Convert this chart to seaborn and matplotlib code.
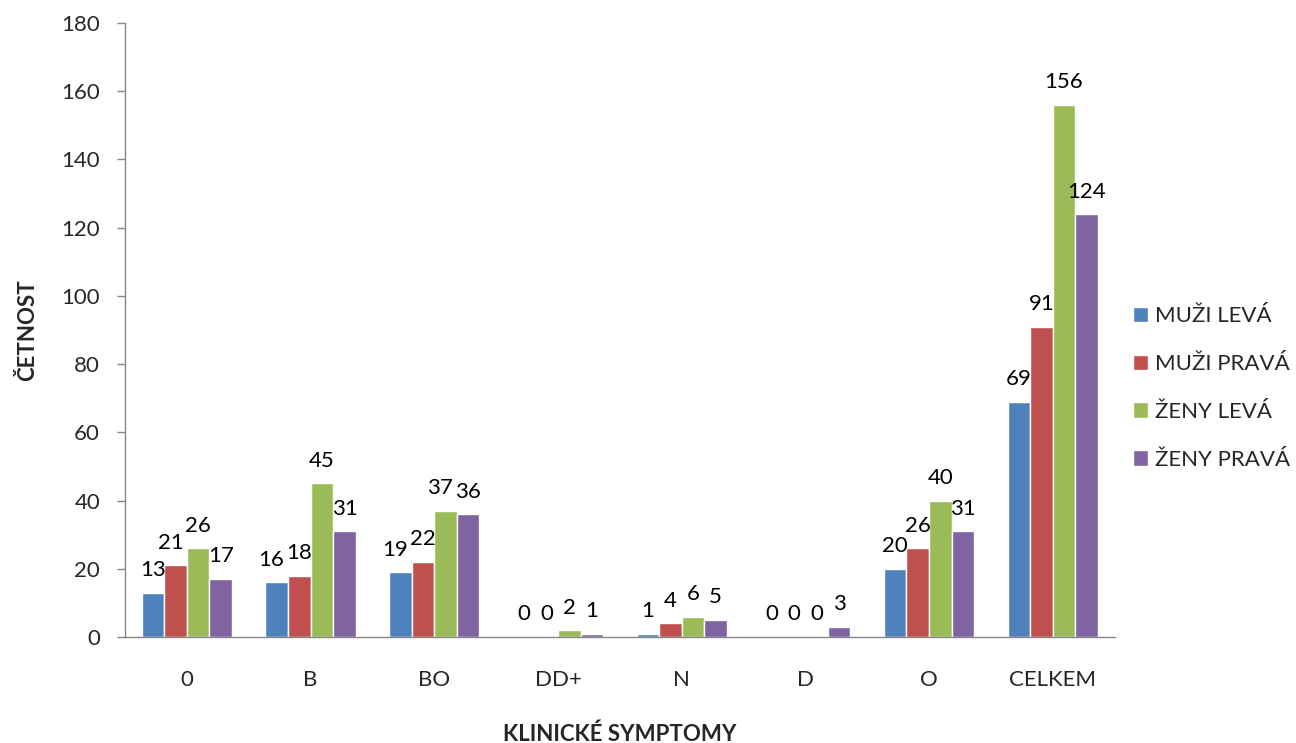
import matplotlib
matplotlib.use("Agg")
import matplotlib.pyplot as plt
import seaborn as sns
import pandas as pd

categories = ["0", "B", "BO", "DD+", "N", "D", "O", "CELKEM"]
series_names = ["MUŽI LEVÁ", "MUŽI PRAVÁ", "ŽENY LEVÁ", "ŽENY PRAVÁ"]
muzi_leva = [13, 16, 19, 0, 1, 0, 20, 69]
muzi_prava = [21, 18, 22, 0, 4, 0, 26, 91]
zeny_leva = [26, 45, 37, 2, 6, 0, 40, 156]
zeny_prava = [17, 31, 36, 1, 5, 3, 31, 124]
colors = ["#4F81BD", "#C0504D", "#9BBB59", "#8064A2"]

values = [muzi_leva, muzi_prava, zeny_leva, zeny_prava]
rows = []
for name, vals in zip(series_names, values):
    for cat, v in zip(categories, vals):
        rows.append({"kategorie": cat, "skupina": name, "hodnota": v})
df = pd.DataFrame(rows)

sns.set_theme(style="white")
plt.rcParams["font.family"] = ["Lato", "DejaVu Sans"]

FS = 16

fig = plt.figure(figsize=(12.96, 7.43), dpi=100)
ax = fig.add_axes([0.0965, 0.1427, 0.7635, 0.8263])

sns.barplot(data=df, x="kategorie", y="hodnota", hue="skupina",
            order=categories, hue_order=series_names, palette=colors,
            width=0.73, saturation=1, errorbar=None, ax=ax, legend=True)

label_sets = []
for cont in ax.containers:
    label_sets.append(ax.bar_label(cont, fmt="%d", padding=9, fontsize=FS, color="black"))

ax.set_ylim(0, 180)
ax.set_yticks(range(0, 181, 20))
ax.set_xlim(-0.5, len(categories) - 0.5)

# category boundary tick marks like a classic spreadsheet chart
ax.set_xticks([i for i in range(len(categories))])
ax.set_xticklabels(categories, fontsize=FS)
ax.set_xticks([i - 0.5 for i in range(len(categories) + 1)], minor=True)
ax.tick_params(axis="x", which="major", length=0, pad=24)
ax.tick_params(axis="x", which="minor", length=6, width=1, color="#868686", direction="out")
ax.tick_params(axis="y", length=6, width=1, color="#868686", direction="out", labelsize=FS, pad=12)
ax.tick_params(bottom=True, left=True)

for s in ["top", "right"]:
    ax.spines[s].set_visible(False)
for s in ["left", "bottom"]:
    ax.spines[s].set_color("#868686")
    ax.spines[s].set_linewidth(1)

ax.set_xlabel("KLINICKÉ SYMPTOMY", fontsize=FS, fontweight="bold", labelpad=24)
ax.set_ylabel("ČETNOST", fontsize=FS, fontweight="bold", labelpad=17)

handles, labels = ax.get_legend_handles_labels()
ax.legend(handles, labels, loc="center left",
          bbox_to_anchor=(1133 / 1296, 1 - 388 / 743), bbox_transform=fig.transFigure,
          frameon=False, fontsize=FS, handlelength=0.68, handleheight=0.68,
          handletextpad=0.32, labelspacing=1.25, borderpad=0, borderaxespad=0)

# nudge neighbouring value labels apart where they collide
fig.canvas.draw()
renderer = fig.canvas.get_renderer()
px_to_pt = 72.0 / fig.dpi
for i in range(len(categories)):
    group = [ls[i] for ls in label_sets]
    for a, b in zip(group[:-1], group[1:]):
        ea = a.get_window_extent(renderer)
        eb = b.get_window_extent(renderer)
        vert = min(ea.y1, eb.y1) - max(ea.y0, eb.y0)
        horiz = ea.x1 - eb.x0 + 2
        if vert > 0 and horiz > 0:
            dx = horiz * px_to_pt
            xa, ya = a.xyann
            a.xyann = (xa - dx, ya)

fig.savefig("out.png", dpi=100)
